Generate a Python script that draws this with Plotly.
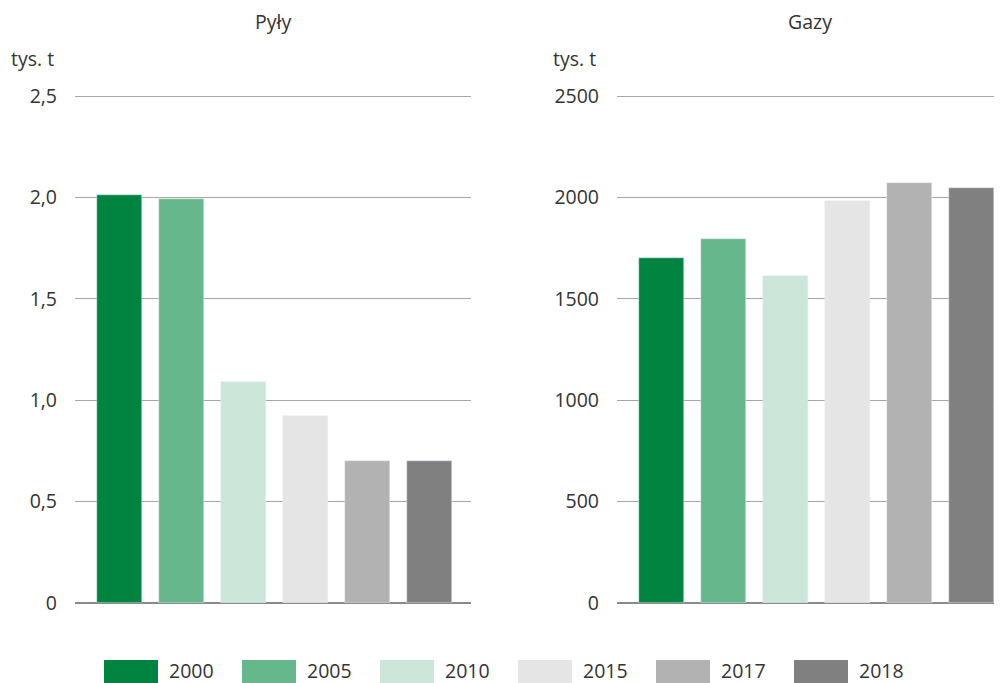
import plotly.graph_objects as go
from plotly.subplots import make_subplots

# dane
years = ["2000", "2005", "2010", "2015", "2017", "2018"]
pyly = [2.01, 1.99, 1.09, 0.92, 0.70, 0.70]
gazy = [1700, 1795, 1610, 1980, 2070, 2045]
colors = ["#00843f", "#66b88c", "#cce6d9", "#e5e5e5", "#b2b2b2", "#808080"]

pyly_ticks = [0, 0.5, 1.0, 1.5, 2.0, 2.5]
pyly_ticktext = ["0", "0,5", "1,0", "1,5", "2,0", "2,5"]
gazy_ticks = [0, 500, 1000, 1500, 2000, 2500]

W, H = 1002, 683
OFF = 8  # margines strony (body) przesuwa wykres o 8 px
FONT = "Open Sans"
TXT = "#333333"
FS = 19.5


def px(v):
    return (v - OFF) / W


def py(v):
    return 1 - (v - OFF) / H


fig = make_subplots(rows=1, cols=2)

fig.add_trace(go.Bar(x=years, y=pyly, marker_color=colors, width=0.726,
                     showlegend=False), row=1, col=1)
fig.add_trace(go.Bar(x=years, y=gazy, marker_color=colors, width=0.726,
                     showlegend=False), row=1, col=2)

# os y: 0 na 603 px, 2.5 na 96 px; domena siega 4 px wyzej, zeby pokazac gorna linie siatki
ydom = [py(603), py(92)]
xax = dict(showticklabels=False, showgrid=False, zeroline=False, showline=False,
           type="category", automargin=False)
yax = dict(showgrid=True, gridcolor="#a6a6a6", gridwidth=1, zeroline=True,
           zerolinecolor="#8a8a8a", zerolinewidth=1.5, showline=False,
           ticks="", ticklabelstandoff=17, domain=ydom, automargin=False,
           tickfont=dict(family=FONT, size=FS, color=TXT))

fig.update_layout(
    xaxis=dict(xax, domain=[px(75), px(471)], range=[-0.72, 5.67]),
    xaxis2=dict(xax, domain=[px(617), 1.0], range=[-0.72, 5.62]),
    yaxis=dict(yax, range=[0, 2.5 * 511 / 507], tickvals=pyly_ticks, ticktext=pyly_ticktext),
    yaxis2=dict(yax, range=[0, 2500 * 511 / 507], tickvals=gazy_ticks),
)

# tytuly i jednostki
for txt, xc in [("Pyły", (75 + 471) / 2), ("Gazy", (617 + 1002) / 2)]:
    fig.add_annotation(text=txt, xref="paper", yref="paper", x=px(xc), y=py(22),
                       xanchor="center", yanchor="middle", showarrow=False,
                       font=dict(family=FONT, size=FS, color=TXT))
for xpos in [9, 551]:
    fig.add_annotation(text="tys. t", xref="paper", yref="paper", x=px(xpos), y=py(58),
                       xanchor="left", yanchor="middle", showarrow=False,
                       font=dict(family=FONT, size=FS, color=TXT))

# legenda
for i, (yr, c) in enumerate(zip(years, colors)):
    x0 = 104 + i * 138
    fig.add_shape(type="rect", xref="paper", yref="paper",
                  x0=px(x0), x1=px(x0 + 54), y0=py(700), y1=py(660),
                  fillcolor=c, line=dict(width=0))
    fig.add_annotation(text=yr, xref="paper", yref="paper", x=px(x0 + 63), y=py(670),
                       xanchor="left", yanchor="middle", showarrow=False,
                       font=dict(family=FONT, size=FS, color=TXT))

fig.update_layout(width=W, height=H, margin=dict(l=0, r=0, t=0, b=0, autoexpand=False),
                  plot_bgcolor="white", paper_bgcolor="white", bargap=0)

fig.write_html("out.html")
